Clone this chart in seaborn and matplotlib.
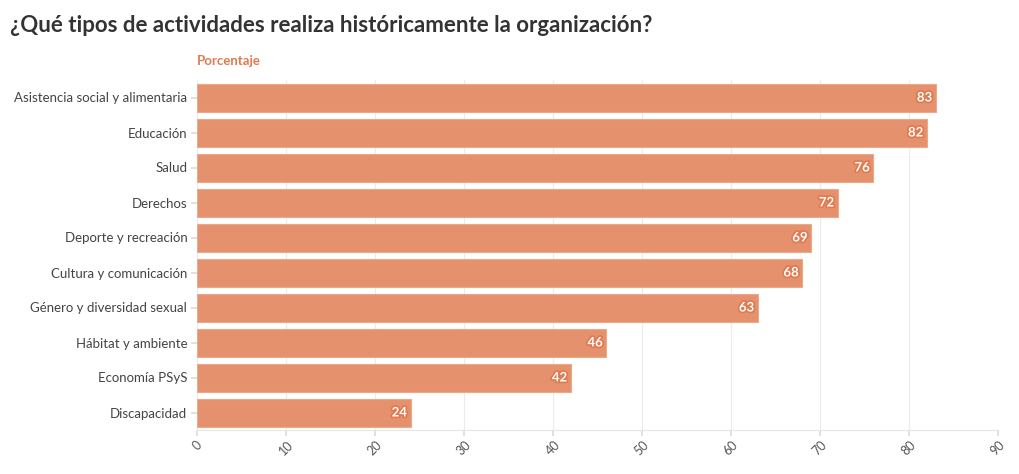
import matplotlib
matplotlib.use("Agg")
import matplotlib.pyplot as plt
import matplotlib.patheffects as pe
import seaborn as sns
import pandas as pd

# --- DATA ---
ACTIVIDADES = [
    "Asistencia social y alimentaria",
    "Educación",
    "Salud",
    "Derechos",
    "Deporte y recreación",
    "Cultura y comunicación",
    "Género y diversidad sexual",
    "Hábitat y ambiente",
    "Economía PSyS",
    "Discapacidad",
]
PORCENTAJES = [83, 82, 76, 72, 69, 68, 63, 46, 42, 24]
X_TICKS = [0, 10, 20, 30, 40, 50, 60, 70, 80, 90]

TITLE = "¿Qué tipos de actividades realiza históricamente la organización?"
SUBTITLE = "Porcentaje"
BAR_COLOR = "#E5916D"
ACCENT = "#E07A4F"

sns.set_theme(style="whitegrid")
plt.rcParams["font.family"] = ["Lato", "DejaVu Sans"]

df = pd.DataFrame({"actividad": ACTIVIDADES, "porcentaje": PORCENTAJES})

fig = plt.figure(figsize=(10.2, 4.74), dpi=100)
ax = fig.add_axes([197 / 1020, 1 - 430 / 474, (998 - 197) / 1020, 350 / 474])

sns.barplot(data=df, y="actividad", x="porcentaje", orient="h", color=BAR_COLOR,
            saturation=1, width=0.8, edgecolor="#EBA88A", linewidth=0.8, ax=ax)

for i, v in enumerate(PORCENTAJES):
    ax.text(v - 0.4, i, str(v), ha="right", va="center", color="white",
            fontsize=9.5, fontweight="bold",
            path_effects=[pe.withStroke(linewidth=2.5, foreground=ACCENT)])

ax.set_xlim(0, 90)
ax.set_ylim(9.5, -0.5)
ax.set_xticks(X_TICKS)
ax.set_xticklabels([str(t) for t in X_TICKS], rotation=45, ha="center",
                   color="#555555", fontsize=9)
ax.tick_params(axis="y", labelsize=9.5, labelcolor="#444444", length=4,
               color="#dddddd", pad=3, left=True)
ax.tick_params(axis="x", length=4, color="#dddddd", bottom=True, pad=2)
ax.set_xlabel("")
ax.set_ylabel("")
ax.grid(axis="y", visible=False)
ax.grid(axis="x", color="#ebebeb", linewidth=0.8)
for side in ["top", "right", "left"]:
    ax.spines[side].set_visible(False)
ax.spines["bottom"].set_color("#e6e6e6")
ax.spines["bottom"].set_linewidth(0.8)

fig.text(10 / 1020, 1 - 25 / 474, TITLE, fontsize=16, fontweight="bold",
         color="#333333", va="center", ha="left")
fig.text(197 / 1020, 1 - 61 / 474, SUBTITLE, fontsize=9.5, fontweight="bold",
         color=ACCENT, va="center", ha="left")

fig.savefig("out.png", dpi=100)
